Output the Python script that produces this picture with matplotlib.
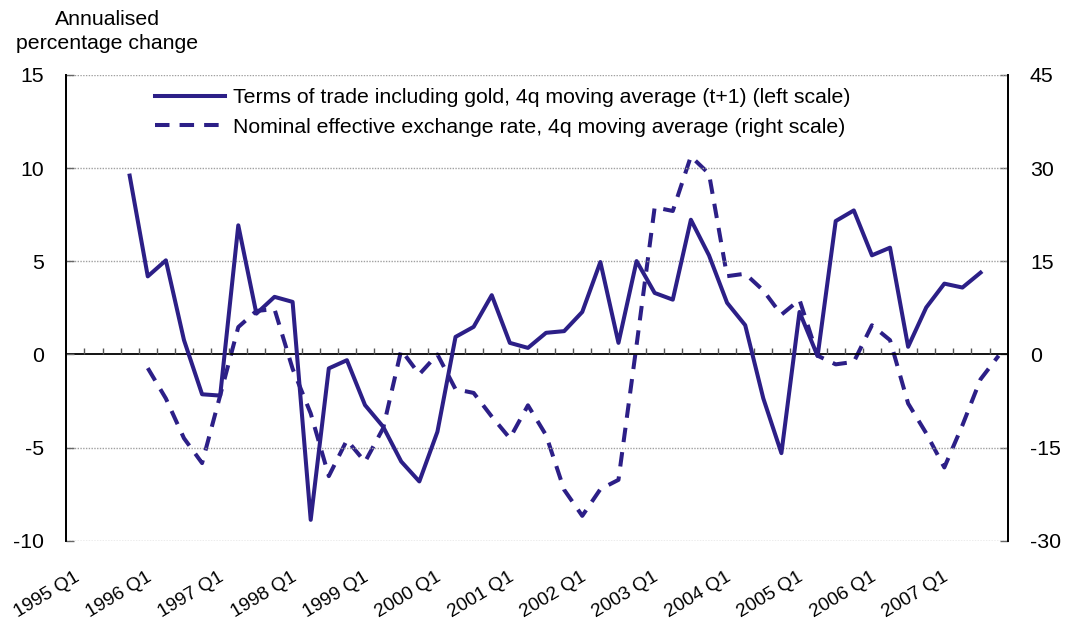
import numpy as np
import matplotlib
matplotlib.use("Agg")
import matplotlib.pyplot as plt
import matplotlib.transforms as mtransforms
from matplotlib.lines import Line2D

plt.rcParams['font.family'] = ['Liberation Sans', 'DejaVu Sans']

# ---- data ----
years = list(range(1995, 2008))
quarters = [f"{y} Q{q}" for y in years for q in range(1, 5)]   # 1995 Q1 .. 2007 Q4
tick_labels = [f"{y} Q1" for y in years]

tot_start = "1995 Q4"
tot_values = [9.60, 4.19, 5.05, 0.77, -2.14, -2.21, 6.93, 2.19, 3.09, 2.82,
              -8.88, -0.75, -0.31, -2.72, -3.88, -5.75, -6.82, -4.15, 0.94, 1.48,
              3.18, 0.62, 0.35, 1.16, 1.25, 2.28, 4.96, 0.62, 5.01, 3.30,
              2.94, 7.23, 5.32, 2.77, 1.57, -2.36, -5.30, 2.28, -0.09, 7.16,
              7.73, 5.32, 5.73, 0.41, 2.52, 3.80, 3.59, 4.39]

neer_start = "1996 Q1"
neer_values = [-2.2, -7.1, -13.5, -17.5, -6.6, 4.4, 7.0, 7.3, -2.3, -9.5,
               -19.6, -13.8, -17.3, -11.9, 0.7, -3.2, 0.0, -5.6, -6.2, -10.0,
               -13.5, -8.2, -13.0, -21.8, -26.0, -21.7, -20.2, 1.5, 23.7, 23.1,
               31.9, 29.1, 12.6, 13.0, 10.3, 6.4, 8.8, -0.2, -1.6, -1.2,
               4.7, 2.3, -7.9, -12.7, -18.2, -11.4, -4.0, -0.2]

tot_label = "Terms of trade including gold, 4q moving average (t+1) (left scale)"
neer_label = "Nominal effective exchange rate, 4q moving average (right scale)"
ylabel_text = "Annualised\npercentage change"

left_ticks = [-10, -5, 0, 5, 10, 15]
right_ticks = [-30, -15, 0, 15, 30, 45]

# ---- style ----
COLOR = '#2C1F87'
FS = 15.3
FS_X = 13.8
W, H = 1067, 623

fig = plt.figure(figsize=(W / 100, H / 100), dpi=100)
ax = fig.add_axes([66.3 / W, 1 - 540.7 / H, (1007.7 - 66.3) / W, (540.7 - 75) / H])
ax2 = ax.twinx()

n = len(quarters)
x_all = np.arange(n)
i0 = quarters.index(tot_start)
j0 = quarters.index(neer_start)
x_tot = x_all[i0:i0 + len(tot_values)]
x_neer = x_all[j0:j0 + len(neer_values)]

ax.set_xlim(-0.5, n - 0.5)
ax.set_ylim(left_ticks[0], left_ticks[-1])
ax2.set_ylim(right_ticks[0], right_ticks[-1])

# gridlines
for v in left_ticks:
    if v != 0:
        ax.axhline(v, color='#a0a0a0', lw=1.0, ls=(0, (1, 1)), zorder=0.5)
ax.axhline(0, color='black', lw=1.3, zorder=1)

# quarter tick marks on zero line
bounds = x_all[:-1] + 0.5
ax.vlines(bounds, 0, 0.32, color='#555555', lw=1.0, zorder=1)

lw = 2.9
dash = (0, (3.6, 2.5))
ax2.plot(x_neer, neer_values, color=COLOR, lw=lw, ls=dash, zorder=3)
ax.plot(x_tot, tot_values, color=COLOR, lw=lw, zorder=3)
ax.set_zorder(ax2.get_zorder() + 1)
ax.patch.set_visible(False)

for a in (ax, ax2):
    a.spines['top'].set_visible(False)
    a.spines['bottom'].set_visible(False)
    a.spines['left'].set_linewidth(1.3)
    a.spines['right'].set_linewidth(1.3)

ax.set_yticks(left_ticks)
ax.set_yticklabels([str(v) for v in left_ticks])
ax2.set_yticks(right_ticks)
ax2.set_yticklabels([str(v) for v in right_ticks])
ax.tick_params(axis='y', direction='in', length=6, width=1, color='#666666',
               labelsize=FS, pad=16)
ax2.tick_params(axis='y', direction='in', length=6, width=1, color='#666666',
                labelsize=FS, pad=16)

ax.set_xticks([quarters.index(t) for t in tick_labels])
ax.set_xticklabels(tick_labels)
ax.tick_params(axis='x', length=0, labelsize=FS_X, pad=20)
offset = mtransforms.ScaledTranslation(-2 / 100, 0, fig.dpi_scale_trans)
for lab in ax.get_xticklabels():
    lab.set_rotation(31)
    lab.set_ha('right')
    lab.set_va('top')
    lab.set_rotation_mode('anchor')
    lab.set_transform(lab.get_transform() + offset)

fig.text(107 / W, 1 - 31.5 / H, ylabel_text, ha='center', va='center',
         fontsize=FS, linespacing=1.32)

handles = [Line2D([], [], color=COLOR, lw=lw),
           Line2D([], [], color=COLOR, lw=lw, ls=dash)]
leg = fig.legend(handles, [tot_label, neer_label], loc='upper left',
                 bbox_to_anchor=(155 / W, 1 - 88 / H), frameon=False,
                 fontsize=FS, handlelength=3.3, handletextpad=0.36,
                 borderpad=0, borderaxespad=0, labelspacing=0.5)

fig.savefig('out.png', dpi=100)
